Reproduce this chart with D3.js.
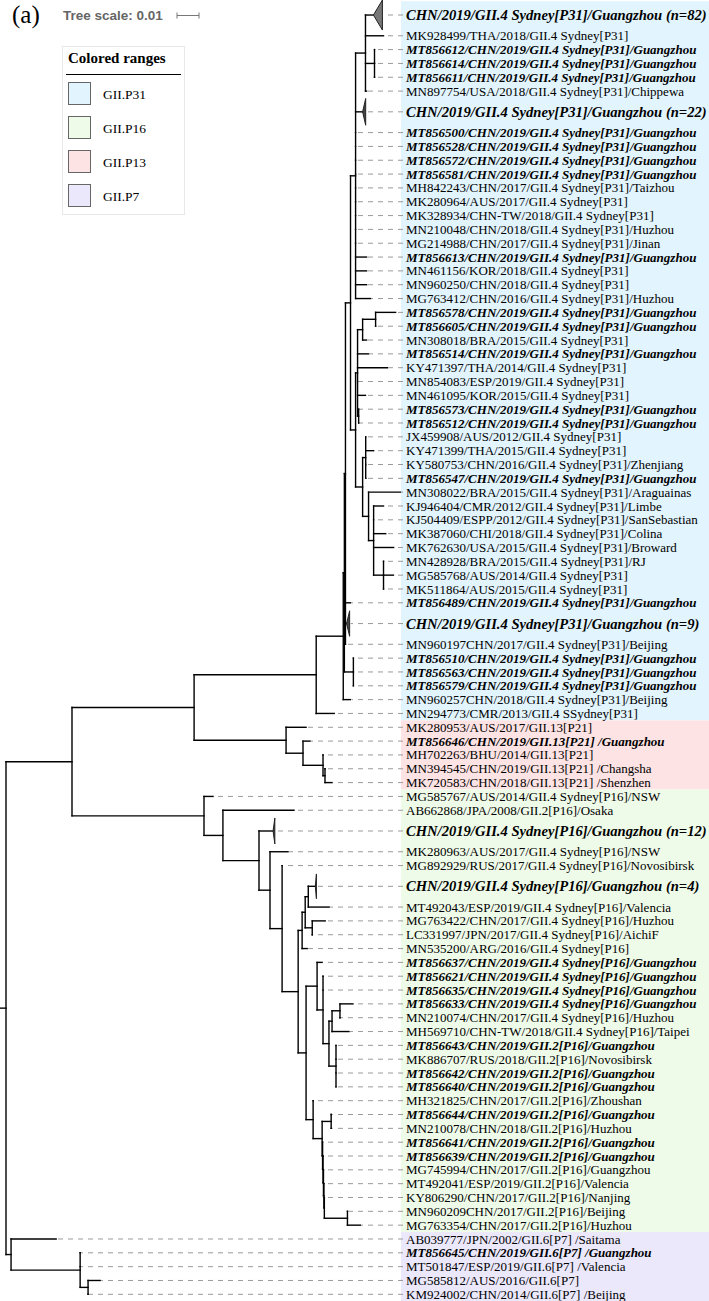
<!DOCTYPE html>
<html><head><meta charset="utf-8">
<script src="https://cdn.jsdelivr.net/npm/d3@7/dist/d3.min.js"></script>
<style>body{margin:0;background:#fff}svg{display:block}</style>
</head><body>
<svg id="chart" width="709" height="1301"></svg>
<script>
// ---------- DATA ----------
const leafLabels = [
"CHN/2019/GII.4 Sydney[P31]/Guangzhou (n=82)",
"MK928499/THA/2018/GII.4 Sydney[P31]",
"MT856612/CHN/2019/GII.4 Sydney[P31]/Guangzhou",
"MT856614/CHN/2019/GII.4 Sydney[P31]/Guangzhou",
"MT856611/CHN/2019/GII.4 Sydney[P31]/Guangzhou",
"MN897754/USA/2018/GII.4 Sydney[P31]/Chippewa",
"CHN/2019/GII.4 Sydney[P31]/Guangzhou (n=22)",
"MT856500/CHN/2019/GII.4 Sydney[P31]/Guangzhou",
"MT856528/CHN/2019/GII.4 Sydney[P31]/Guangzhou",
"MT856572/CHN/2019/GII.4 Sydney[P31]/Guangzhou",
"MT856581/CHN/2019/GII.4 Sydney[P31]/Guangzhou",
"MH842243/CHN/2017/GII.4 Sydney[P31]/Taizhou",
"MK280964/AUS/2017/GII.4 Sydney[P31]",
"MK328934/CHN-TW/2018/GII.4 Sydney[P31]",
"MN210048/CHN/2018/GII.4 Sydney[P31]/Huzhou",
"MG214988/CHN/2017/GII.4 Sydney[P31]/Jinan",
"MT856613/CHN/2019/GII.4 Sydney[P31]/Guangzhou",
"MN461156/KOR/2018/GII.4 Sydney[P31]",
"MN960250/CHN/2018/GII.4 Sydney[P31]",
"MG763412/CHN/2016/GII.4 Sydney[P31]/Huzhou",
"MT856578/CHN/2019/GII.4 Sydney[P31]/Guangzhou",
"MT856605/CHN/2019/GII.4 Sydney[P31]/Guangzhou",
"MN308018/BRA/2015/GII.4 Sydney[P31]",
"MT856514/CHN/2019/GII.4 Sydney[P31]/Guangzhou",
"KY471397/THA/2014/GII.4 Sydney[P31]",
"MN854083/ESP/2019/GII.4 Sydney[P31]",
"MN461095/KOR/2015/GII.4 Sydney[P31]",
"MT856573/CHN/2019/GII.4 Sydney[P31]/Guangzhou",
"MT856512/CHN/2019/GII.4 Sydney[P31]/Guangzhou",
"JX459908/AUS/2012/GII.4 Sydney[P31]",
"KY471399/THA/2015/GII.4 Sydney[P31]",
"KY580753/CHN/2016/GII.4 Sydney[P31]/Zhenjiang",
"MT856547/CHN/2019/GII.4 Sydney[P31]/Guangzhou",
"MN308022/BRA/2015/GII.4 Sydney[P31]/Araguainas",
"KJ946404/CMR/2012/GII.4 Sydney[P31]/Limbe",
"KJ504409/ESPP/2012/GII.4 Sydney[P31]/SanSebastian",
"MK387060/CHI/2018/GII.4 Sydney[P31]/Colina",
"MK762630/USA/2015/GII.4 Sydney[P31]/Broward",
"MN428928/BRA/2015/GII.4 Sydney[P31]/RJ",
"MG585768/AUS/2014/GII.4 Sydney[P31]",
"MK511864/AUS/2015/GII.4 Sydney[P31]",
"MT856489/CHN/2019/GII.4 Sydney[P31]/Guangzhou",
"CHN/2019/GII.4 Sydney[P31]/Guangzhou (n=9)",
"MN960197CHN/2017/GII.4 Sydney[P31]/Beijing",
"MT856510/CHN/2019/GII.4 Sydney[P31]/Guangzhou",
"MT856563/CHN/2019/GII.4 Sydney[P31]/Guangzhou",
"MT856579/CHN/2019/GII.4 Sydney[P31]/Guangzhou",
"MN960257CHN/2018/GII.4 Sydney[P31]/Beijing",
"MN294773/CMR/2013/GII.4 SSydney[P31]",
"MK280953/AUS/2017/GII.13[P21]",
"MT856646/CHN/2019/GII.13[P21] /Guangzhou",
"MH702263/BHU/2014/GII.13[P21]",
"MN394545/CHN/2019/GII.13[P21] /Changsha",
"MK720583/CHN/2018/GII.13[P21] /Shenzhen",
"MG585767/AUS/2014/GII.4 Sydney[P16]/NSW",
"AB662868/JPA/2008/GII.2[P16]/Osaka",
"CHN/2019/GII.4 Sydney[P16]/Guangzhou (n=12)",
"MK280963/AUS/2017/GII.4 Sydney[P16]/NSW",
"MG892929/RUS/2017/GII.4 Sydney[P16]/Novosibirsk",
"CHN/2019/GII.4 Sydney[P16]/Guangzhou (n=4)",
"MT492043/ESP/2019/GII.4 Sydney[P16]/Valencia",
"MG763422/CHN/2017/GII.4 Sydney[P16]/Huzhou",
"LC331997/JPN/2017/GII.4 Sydney[P16]/AichiF",
"MN535200/ARG/2016/GII.4 Sydney[P16]",
"MT856637/CHN/2019/GII.4 Sydney[P16]/Guangzhou",
"MT856621/CHN/2019/GII.4 Sydney[P16]/Guangzhou",
"MT856635/CHN/2019/GII.4 Sydney[P16]/Guangzhou",
"MT856633/CHN/2019/GII.4 Sydney[P16]/Guangzhou",
"MN210074/CHN/2017/GII.4 Sydney[P16]/Huzhou",
"MH569710/CHN-TW/2018/GII.4 Sydney[P16]/Taipei",
"MT856643/CHN/2019/GII.2[P16]/Guangzhou",
"MK886707/RUS/2018/GII.2[P16]/Novosibirsk",
"MT856642/CHN/2019/GII.2[P16]/Guangzhou",
"MT856640/CHN/2019/GII.2[P16]/Guangzhou",
"MH321825/CHN/2017/GII.2[P16]/Zhoushan",
"MT856644/CHN/2019/GII.2[P16]/Guangzhou",
"MN210078/CHN/2018/GII.2[P16]/Huzhou",
"MT856641/CHN/2019/GII.2[P16]/Guangzhou",
"MT856639/CHN/2019/GII.2[P16]/Guangzhou",
"MG745994/CHN/2017/GII.2[P16]/Guangzhou",
"MT492041/ESP/2019/GII.2[P16]/Valencia",
"KY806290/CHN/2017/GII.2[P16]/Nanjing",
"MN960209CHN/2017/GII.2[P16]/Beijing",
"MG763354/CHN/2017/GII.2[P16]/Huzhou",
"AB039777/JPN/2002/GII.6[P7] /Saitama",
"MT856645/CHN/2019/GII.6[P7] /Guangzhou",
"MT501847/ESP/2019/GII.6[P7] /Valencia",
"MG585812/AUS/2016/GII.6[P7]",
"KM924002/CHN/2014/GII.6[P7] /Beijing"
];

// Sub-clade topologies with branch lengths (substitutions/site); tN = leafLabels[N-1]
const cladeTopA  = "(t1:0.0036,t2:0.0082,(t3:0,t4:0,t5:0):0.0041,t6:0.0005)";
const cladeTopB  = "(" + cladeTopA + ":0.0045,t7:0.0032,t8:0,t9:0,t10:0,t11:0,t12:0,t13:0,t14:0,t15:0,t16:0,t17:0.0050,t18:0.0050,t19:0.0050,t20:0.0068)";
const cladeMidA  = "(((t21:0.0091,t22:0):0.0059,t23:0.0018):0.0023,t24:0.0050,t25:0.0136,t26:0,t27:0.0036,(t28:0,t29:0):0.0005)";
const cladeMidB  = "((t30:0,t31:0.0036,t32:0,t33:0):0.0014,(t34:0.0145,(t35:0.0045,t36:0,t37:0.0055,t38:0.0091,(t39:0,t40:0.0045,t41:0):0.0045):0.0023):0.0027)";
const cladeMid   = "(" + cladeMidA + ":0.0009," + cladeMidB + ":0.0032)";
const cladeP31   = "((((" + "(" + cladeTopB + ":0.0023," + cladeMid + ":0.0023)" + ":0.0023,t42:0.0023,t43:0.0005,t44:0):0.0005,(t45:0,t46:0,t47:0):0.0041):0.0005,t48:0.0032):0.0123,t49:0.0082)";
const cladeP21   = "(t50:0.0091,(t51:0.0032,(t52:0,(t53:0,t54:0.0032):0.0009):0.0091):0.0077)";
const cladeP16a  = "(((t60:0.0032,t61:0.0095):0.0014,(t62:0.0059,t63:0):0.0032):0.0014,t64:0.0023)";
const cladeP16b  = "(t65:0.0023,(t66:0,t67:0,(((t68:0.0059,t69:0):0.0036,t70:0.0077):0.0014,(t71:0,t72:0,t73:0,t74:0):0.0032):0.0027):0.0027)";
const cladeP16c  = "(t75:0,((t76:0,t77:0):0.0041,(t78:0,(t79:0,(t80:0,(t81:0,(t82:0,(t83:0,t84:0.0059):0.0105):0.0002):0.0002):0.0002):0.0002):0.0002):0.0041)";
const cladeP16   = "(t55:0.0041,(t56:0.0323,(t57:0.0064,(t58:0.0082,(t59:0,(" + cladeP16a + ":0.0018,(" + cladeP16b + ":0.0050," + cladeP16c + ":0.0032):0.0036):0.0073):0.0055):0.0050):0.0164):0.0086)";
const cladeP7    = "(t85:0.0205,(t86:0,t87:0,(t88:0.0055,t89:0):0.0036):0.0314)";
const treeNewick = "(((" + cladeP31 + ":0.0555," + cladeP21 + ":0.0418):0.0555," + cladeP16 + ":0.0600):0.0300," + cladeP7 + ":0.0023);";

// Collapsed clades: leaf id, number of sequences, clade depth
const collapsedIds = ["t1", "t7", "t43", "t57", "t60"];
const collapsedN = [82, 22, 9, 12, 4];
const collapsedDepth = [0.0041, 0.0014, 0.0014, 0.0008, 0.0005];

// Coloured ranges (first/last leaf numbers)
const rangeNames = ["GII.P31", "GII.P13", "GII.P16", "GII.P7"];
const rangeFirst = [1, 50, 55, 85];
const rangeLast = [49, 54, 84, 89];
const rangeColors = ["#e2f4fd", "#fde3e3", "#effbe9", "#ebe8fb"];
const legendNames = ["GII.P31", "GII.P16", "GII.P13", "GII.P7"];
const legendColors = ["#e2f4fd", "#effbe9", "#fde3e3", "#ebe8fb"];
const scaleValue = 0.01;

// ---------- PARSE ----------
function parseNewick(str) {
  const s = str.replace(/\s+/g, "");
  let i = 0;
  function node() {
    const n = {name: "", length: 0};
    if (s[i] === "(") {
      i++;
      n.children = [node()];
      while (s[i] === ",") { i++; n.children.push(node()); }
      i++;
    }
    let name = "";
    while (i < s.length && !",():;".includes(s[i])) name += s[i++];
    n.name = name;
    if (s[i] === ":") {
      i++;
      let num = "";
      while (i < s.length && !",();".includes(s[i])) num += s[i++];
      n.length = +num;
    }
    return n;
  }
  return node();
}

const root = d3.hierarchy(parseNewick(treeNewick), d => d.children);
root.eachBefore(d => { d.dist = (d.parent ? d.parent.dist : 0) + d.data.length; });

const collapsedMap = new Map(collapsedIds.map((id, k) => [id, {n: collapsedN[k], depth: collapsedDepth[k]}]));
const leaves = root.leaves();
leaves.forEach(l => {
  l.idx = +l.data.name.slice(1) - 1;
  l.label = leafLabels[l.idx];
  l.col = collapsedMap.get(l.data.name) || null;
  l.w = l.col ? 2 : 1;
});
const totalUnits = d3.sum(leaves, l => l.w);

// ---------- SCALES ----------
const xScale = d3.scaleLinear().domain([0, 0.18]).range([6, 402]);
const yScale = d3.scaleLinear().domain([0, totalUnits]).range([1.2, 1.2 + totalUnits * 13.83]);

let cum = 0;
leaves.forEach(l => { l.top = cum; l.y = yScale(cum + l.w / 2); cum += l.w; l.bottom = cum; });
root.eachAfter(d => {
  if (d.children) d.y = (d.children[0].y + d.children[d.children.length - 1].y) / 2;
  d.x = xScale(d.dist);
});

const svg = d3.select("#chart");
const labelX = 406, leaderEnd = 403;

// ---------- COLOURED RANGES ----------
rangeNames.forEach((nm, k) => {
  const a = leaves[rangeFirst[k] - 1], b = leaves[rangeLast[k] - 1];
  svg.append("rect")
    .attr("x", 401).attr("width", 709 - 401)
    .attr("y", yScale(a.top)).attr("height", yScale(b.bottom) - yScale(a.top))
    .attr("fill", rangeColors[k]);
});

// ---------- LEADERS ----------
const gLead = svg.append("g").attr("stroke", "#9a9a9a").attr("stroke-width", 1).attr("stroke-dasharray", "5,5");
leaves.forEach(l => {
  const tipX = l.col ? xScale(l.dist + l.col.depth) : l.x;
  if (leaderEnd - tipX > 2)
    gLead.append("line").attr("x1", leaderEnd).attr("x2", tipX + 1).attr("y1", l.y).attr("y2", l.y);
});

// ---------- BRANCHES ----------
const gBr = svg.append("g").attr("stroke", "#000").attr("stroke-width", 1.4).attr("fill", "none").attr("stroke-linecap", "square");
root.descendants().forEach(d => {
  if (d.parent) gBr.append("line").attr("x1", d.parent.x).attr("x2", d.x).attr("y1", d.y).attr("y2", d.y);
  if (d.children) gBr.append("line").attr("x1", d.x).attr("x2", d.x)
      .attr("y1", d.children[0].y).attr("y2", d.children[d.children.length - 1].y);
});
gBr.append("line").attr("x1", 0).attr("x2", root.x).attr("y1", root.y).attr("y2", root.y);

// ---------- COLLAPSED TRIANGLES ----------
const hScale = d3.scaleSqrt().domain([1, 82]).range([12, 15]);
leaves.filter(l => l.col).forEach(l => {
  const x0 = l.x, x1 = xScale(l.dist + l.col.depth), h = hScale(l.col.n);
  svg.append("path")
    .attr("d", `M${x0},${l.y}L${x1},${l.y - h}L${x1},${l.y + h}Z`)
    .attr("fill", l.col.n > 50 ? "#777" : "#444").attr("stroke", "#222").attr("stroke-width", 1);
});

// ---------- LABELS ----------
const gLab = svg.append("g").attr("font-family", "'Liberation Serif','Times New Roman',serif");
leaves.forEach(l => {
  const study = l.col || /^MT856/.test(l.label);
  gLab.append("text")
    .attr("x", labelX).attr("y", l.y).attr("dy", "0.35em")
    .attr("font-size", l.col ? 14.6 : 13)
    .attr("font-weight", study ? "bold" : "normal")
    .attr("font-style", study ? "italic" : "normal")
    .attr("fill", "#000")
    .text(l.label);
});

// ---------- HEADER ----------
svg.append("text").attr("x", 12).attr("y", 23).attr("font-family", "'Liberation Serif','Times New Roman',serif")
  .attr("font-size", 25).text("(a)");
svg.append("text").attr("x", 63).attr("y", 15).attr("dy", "0.35em")
  .attr("font-family", "'Liberation Sans',Arial,sans-serif").attr("font-weight", "bold")
  .attr("font-size", 13.5).attr("fill", "#666").text("Tree scale: " + scaleValue);
const sb = svg.append("g").attr("stroke", "#777").attr("stroke-width", 1);
const sx0 = 177, sx1 = 177 + (xScale(scaleValue) - xScale(0));
sb.append("line").attr("x1", sx0).attr("x2", sx1).attr("y1", 15.5).attr("y2", 15.5);
sb.append("line").attr("x1", sx0).attr("x2", sx0).attr("y1", 12.5).attr("y2", 18.5);
sb.append("line").attr("x1", sx1).attr("x2", sx1).attr("y1", 12.5).attr("y2", 18.5);

// ---------- LEGEND ----------
const lg = svg.append("g").attr("font-family", "'Liberation Serif','Times New Roman',serif");
lg.append("rect").attr("x", 62.5).attr("y", 46.5).attr("width", 122).attr("height", 168)
  .attr("fill", "#fff").attr("stroke", "#e8e8e8");
lg.append("text").attr("x", 68).attr("y", 63).attr("font-size", 15).attr("font-weight", "bold").text("Colored ranges");
lg.append("line").attr("x1", 66).attr("x2", 181).attr("y1", 74.5).attr("y2", 74.5).attr("stroke", "#000");
legendNames.forEach((nm, k) => {
  lg.append("rect").attr("x", 68.5).attr("y", 82.5 + 34 * k).attr("width", 22).attr("height", 22)
    .attr("fill", legendColors[k]).attr("stroke", "#666");
  lg.append("text").attr("x", 103).attr("y", 94 + 34 * k).attr("dy", "0.35em").attr("font-size", 13.5).text(nm);
});
</script>
</body></html>
